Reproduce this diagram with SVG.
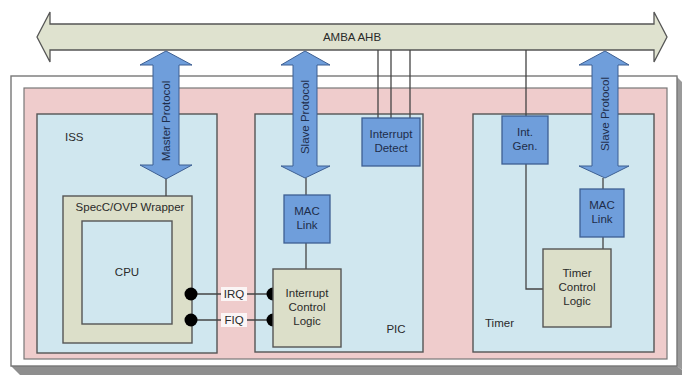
<svg xmlns="http://www.w3.org/2000/svg" width="682" height="375" viewBox="0 0 682 375">
<defs>
<style>
text{font-family:"Liberation Sans",Arial,sans-serif;font-size:11.5px;fill:#2a2a2a}
.b{fill:#6f9edb;stroke:#3d5f92;stroke-width:1.3}
.bt{fill:#1e2d4a}
.lb{fill:#d0e7ef;stroke:#555;stroke-width:1.4}
.ol{fill:#dcdfc9;stroke:#555;stroke-width:1.4}
.ln{stroke:#444;stroke-width:1.3;fill:none}
.dot{fill:#000}
.arr{fill:#6f9edb;stroke:#3d5f92;stroke-width:1}
</style>
</defs>
<rect width="682" height="375" fill="#fff"/>
<g id="frame">
<polygon points="11,366 677,366 682,370 682,375 20,375" fill="#8e8e8e"/>
<polygon points="677,77 682,82 682,370 677,366" fill="#9a9a9a"/>
<rect x="11" y="76" width="666" height="290" fill="#fff" stroke="#777" stroke-width="1.4"/>
<rect x="24" y="88" width="643" height="271" fill="#efcccc" stroke="#777" stroke-width="1.2"/>
</g>
<g id="amba">
<polygon points="37,37 50,12 50,24 654,24 654,12 667,37 654,62 654,50 50,50 50,62" fill="#dfe2cf" stroke="#555" stroke-width="1.3"/>
<text x="352" y="41" text-anchor="middle">AMBA AHB</text>
</g>
<g id="iss">
<rect class="lb" x="37" y="114" width="180" height="239"/>
<text x="65" y="141">ISS</text>
</g>
<g id="wrapper">
<rect class="ol" x="63" y="196" width="129" height="147"/>
<text x="130" y="211" text-anchor="middle">SpecC/OVP Wrapper</text>
</g>
<g id="cpu">
<rect class="lb" x="82" y="221" width="90" height="103"/>
<text x="127" y="276" text-anchor="middle">CPU</text>
</g>
<g id="pic">
<rect class="lb" x="255" y="114" width="168" height="238"/>
<text x="396" y="333" text-anchor="middle">PIC</text>
</g>
<g id="timer">
<rect class="lb" x="473" y="114" width="181" height="238"/>
<text x="485" y="327">Timer</text>
</g>
<g id="connectors">
<line class="ln" x1="166" y1="178" x2="166" y2="196"/>
<line class="ln" x1="306" y1="178" x2="306" y2="269"/>
<line class="ln" x1="378" y1="50" x2="378" y2="118"/>
<line class="ln" x1="391" y1="50" x2="391" y2="118"/>
<line class="ln" x1="410" y1="50" x2="410" y2="118"/>
<polyline class="ln" points="526,50 526,289 543,289"/>
<line class="ln" x1="603" y1="178" x2="603" y2="249"/>
<line class="ln" x1="191" y1="294" x2="273" y2="294"/>
<line class="ln" x1="191" y1="320" x2="273" y2="320"/>
<rect x="221" y="287" width="26" height="14" fill="#fbf5f5"/>
<rect x="221" y="313" width="26" height="14" fill="#fbf5f5"/>
<text x="234" y="298" text-anchor="middle">IRQ</text>
<text x="234" y="324" text-anchor="middle">FIQ</text>
<circle class="dot" cx="191" cy="294" r="6.5"/>
<circle class="dot" cx="191" cy="320" r="6.5"/>
<circle class="dot" cx="273" cy="294" r="6.5"/>
<circle class="dot" cx="273" cy="320" r="6.5"/>
</g>
<g id="master-protocol">
<polygon class="arr" points="166,51 192,65 179,65 179,165 192,165 166,179 140,165 153,165 153,65 140,65"/>
<text class="bt" transform="translate(170,121) rotate(-90)" text-anchor="middle">Master Protocol</text>
</g>
<g id="slave-protocol-pic">
<polygon class="arr" points="305,51 330,65 317,65 317,166 330,166 305,178 281,166 293,166 293,65 281,65"/>
<text class="bt" transform="translate(309,117) rotate(-90)" text-anchor="middle">Slave Protocol</text>
</g>
<g id="slave-protocol-timer">
<polygon class="arr" points="605,51 629,65 618,65 618,166 629,166 605,178 579,166 592,166 592,65 579,65"/>
<text class="bt" transform="translate(609,114) rotate(-90)" text-anchor="middle">Slave Protocol</text>
</g>
<g id="interrupt-detect">
<rect class="b" x="362" y="118" width="58" height="48"/>
<text class="bt" x="391" y="138" text-anchor="middle">Interrupt</text>
<text class="bt" x="391" y="152" text-anchor="middle">Detect</text>
</g>
<g id="mac-link-pic">
<rect class="b" x="284" y="195" width="46" height="48"/>
<text class="bt" x="307" y="215" text-anchor="middle">MAC</text>
<text class="bt" x="307" y="229" text-anchor="middle">Link</text>
</g>
<g id="interrupt-control-logic">
<rect class="ol" x="273" y="269" width="68" height="78"/>
<text x="307" y="297" text-anchor="middle">Interrupt</text>
<text x="307" y="311" text-anchor="middle">Control</text>
<text x="307" y="325" text-anchor="middle">Logic</text>
</g>
<g id="int-gen">
<rect class="b" x="502" y="116" width="46" height="48"/>
<text class="bt" x="525" y="136" text-anchor="middle">Int.</text>
<text class="bt" x="525" y="150" text-anchor="middle">Gen.</text>
</g>
<g id="mac-link-timer">
<rect class="b" x="580" y="189" width="44" height="48"/>
<text class="bt" x="602" y="209" text-anchor="middle">MAC</text>
<text class="bt" x="602" y="223" text-anchor="middle">Link</text>
</g>
<g id="timer-control-logic">
<rect class="ol" x="543" y="249" width="68" height="78"/>
<text x="577" y="277" text-anchor="middle">Timer</text>
<text x="577" y="291" text-anchor="middle">Control</text>
<text x="577" y="305" text-anchor="middle">Logic</text>
</g>
</svg>
